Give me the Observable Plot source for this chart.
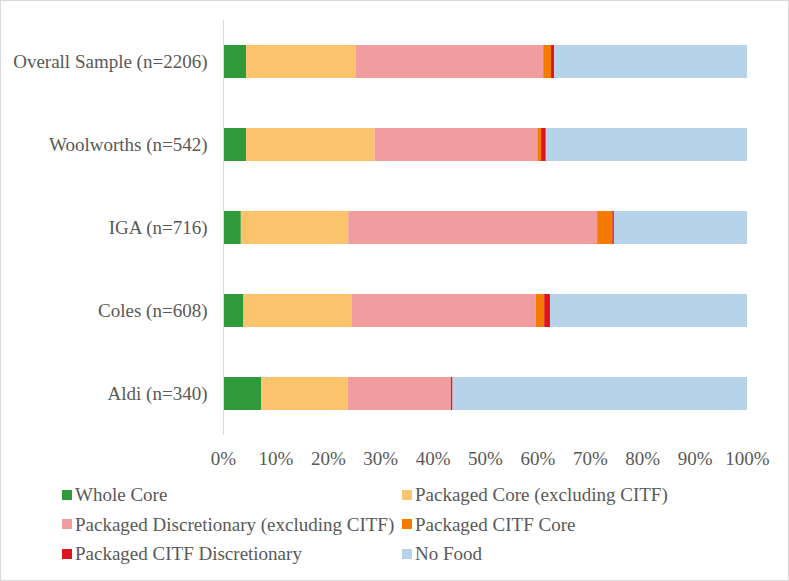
<!DOCTYPE html>
<html>
<head>
<meta charset="utf-8">
<script src="https://cdn.jsdelivr.net/npm/d3@7"></script>
<script src="https://cdn.jsdelivr.net/npm/@observablehq/plot@0.6"></script>
<style>
  html, body { margin: 0; padding: 0; background: #fff; }
  #wrap { position: relative; width: 789px; height: 581px; box-shadow: inset 0 0 0 1px #d9d9d9; overflow: hidden; font-family: "Liberation Serif", "Times New Roman", serif; color: #595959; }
  #legend { display: grid; grid-template-columns: 340px 340px; padding-left: 62px; font-size: 19px; line-height: 29.5px; }
  .item { display: flex; align-items: center; white-space: nowrap; }
  .sw { width: 10px; height: 10px; margin-right: 3px; flex: none; }
</style>
</head>
<body>
<div id="wrap"><div id="chart"></div><div id="legend"></div></div>
<script>
const stores = ["Overall Sample (n=2206)", "Woolworths (n=542)", "IGA (n=716)", "Coles (n=608)", "Aldi (n=340)"];
const categories = ["Whole Core", "Packaged Core (excluding CITF)", "Packaged Discretionary (excluding CITF)", "Packaged CITF Core", "Packaged CITF Discretionary", "No Food"];
const colors = ["#2f9a3a", "#fac36c", "#f19c9f", "#f57b00", "#e0141c", "#b6d3ea"];
const wholeCore    = [4.4, 4.4, 3.4, 3.9, 7.3];
const packagedCore = [20.9, 24.5, 20.5, 20.7, 16.5];
const packagedDisc = [35.8, 31.1, 47.5, 35.1, 19.7];
const citfCore     = [1.5, 0.7, 2.9, 1.6, 0.0];
const citfDisc     = [0.6, 0.9, 0.3, 1.1, 0.3];
const noFood       = [36.8, 38.4, 25.4, 37.6, 56.2];
const xTicks = [0, 10, 20, 30, 40, 50, 60, 70, 80, 90, 100];

const series = [wholeCore, packagedCore, packagedDisc, citfCore, citfDisc, noFood];
const data = [];
stores.forEach((s, i) => series.forEach((arr, j) => data.push({store: s, cat: categories[j], value: arr[i]})));

const chart = Plot.plot({
  width: 789,
  height: 480,
  marginLeft: 223,
  marginRight: 42,
  marginTop: 20,
  marginBottom: 45,
  style: {fontFamily: "Liberation Serif, Times New Roman, serif", fontSize: "19px", color: "#595959", background: "transparent"},
  x: {domain: [0, 100], ticks: xTicks, tickFormat: d => d + "%", label: null},
  y: {domain: stores, paddingInner: 0.6, paddingOuter: 0.3, label: null},
  color: {domain: categories, range: colors},
  marks: [
    Plot.barX(data, {x: "value", y: "store", fill: "cat", order: categories}),
    Plot.ruleX([0], {stroke: "#d9d9d9", strokeWidth: 1}),
    Plot.axisX({ticks: xTicks, tickFormat: d => d + "%", tickSize: 0, tickPadding: 16, label: null, fill: "#595959"}),
    Plot.axisY({tickSize: 0, tickPadding: 16, label: null, fill: "#595959"})
  ]
});
document.getElementById("chart").appendChild(chart);

const legend = document.getElementById("legend");
categories.forEach((c, i) => {
  const it = document.createElement("div");
  it.className = "item";
  const sw = document.createElement("span");
  sw.className = "sw";
  sw.style.background = colors[i];
  it.appendChild(sw);
  it.appendChild(document.createTextNode(c));
  legend.appendChild(it);
});
</script>
</body>
</html>
